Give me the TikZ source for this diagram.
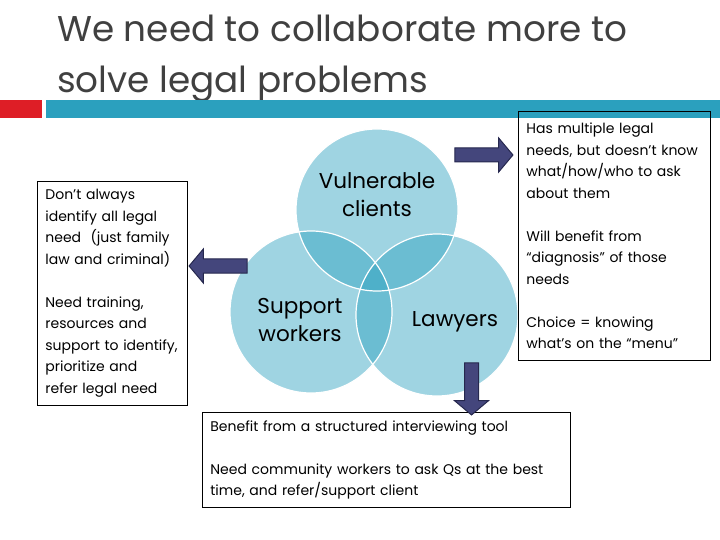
\documentclass[tikz,border=0pt]{standalone}
\usepackage{fontspec}
\setmainfont{Poppins}
\usetikzlibrary{positioning, shapes.arrows}

\definecolor{barteal}{RGB}{43,160,190}
\definecolor{barred}{RGB}{222,30,38}
\definecolor{titlegray}{RGB}{64,64,64}
\definecolor{arrowfill}{RGB}{68,70,124}
\definecolor{arrowedge}{RGB}{38,40,78}

\begin{document}
\begin{tikzpicture}[
    x=1bp, y=-1bp,
    titletext/.style={anchor=base west, inner sep=0pt, text=titlegray,
                      font=\fontsize{35.8bp}{51bp}\selectfont},
    venn/.style={circle, minimum size=162bp, inner sep=0pt,
                 fill=barteal, fill opacity=0.45},
    vennline/.style={draw=white, line width=1.2bp},
    venntext/.style={align=center, text=black,
                     font=\fontsize{21.5bp}{28bp}\selectfont},
    notebox/.style={rectangle, draw, line width=0.8bp, anchor=north west,
                    align=left, inner sep=8bp,
                    font=\fontsize{14bp}{21.5bp}\selectfont},
    bigarrow/.style={single arrow, draw=arrowedge, fill=arrowfill,
                     line width=1bp, inner sep=6.5bp,
                     single arrow head extend=10bp, single arrow tip angle=100}
]
  \useasboundingbox (0,0) rectangle (720,540);

  % Title
  \node[titletext] (title) at (57,42) {We need to collaborate more to};
  \node[titletext] (subtitle) at (57,93) {solve legal problems};
  \fill[barred] (0,100) rectangle (42,118);
  \fill[barteal] (46,100) rectangle (720,118);

  % Venn circles
  \node[venn] (vc) at (377,210) {};
  \node[venn] (sw) at (311,312) {};
  \node[venn] (lw) at (437,315) {};
  \foreach \c in {vc, sw, lw}
    \draw[vennline] (\c.center) circle[radius=81bp];

  \node[venntext] (vctext) at (377,195) {Vulnerable\\clients};
  \node[venntext] (swtext) at (300,320) {Support\\workers};
  \node[venntext] (lwtext) at (455,322) {Lawyers};

  % Notes
  \node[notebox, text width=176bp, minimum height=249bp] (clientnote) at (518,111)
    {Has multiple legal\\needs, but doesn't know\\what/how/who to ask\\about them\\[21.5bp]
     Will benefit from\\“diagnosis” of those\\needs\\[21.5bp]
     Choice = knowing\\what's on the “menu”};
  \node[notebox, text width=134bp, minimum height=217bp] (workernote) at (37,181)
    {Don't always\\identify all legal\\need~ (just family\\law and criminal)\\[21.5bp]
     Need training,\\resources and\\support to identify,\\prioritize and\\refer legal need};
  \node[notebox, text width=352bp, minimum height=90bp] (lawyernote) at (202,412)
    {Benefit from a structured interviewing tool\\[21.5bp]
     Need community workers to ask Qs at the best\\time, and refer/support client};

  % Arrows
  \node[bigarrow, minimum height=58bp] (toclient) at (481,155) {};
  \node[bigarrow, minimum height=58bp, shape border rotate=180] (toworker) at (221,266) {};
  \node[bigarrow, minimum height=52bp, shape border rotate=270] (tolawyer) at (471.5,386) {};
\end{tikzpicture}
\end{document}
